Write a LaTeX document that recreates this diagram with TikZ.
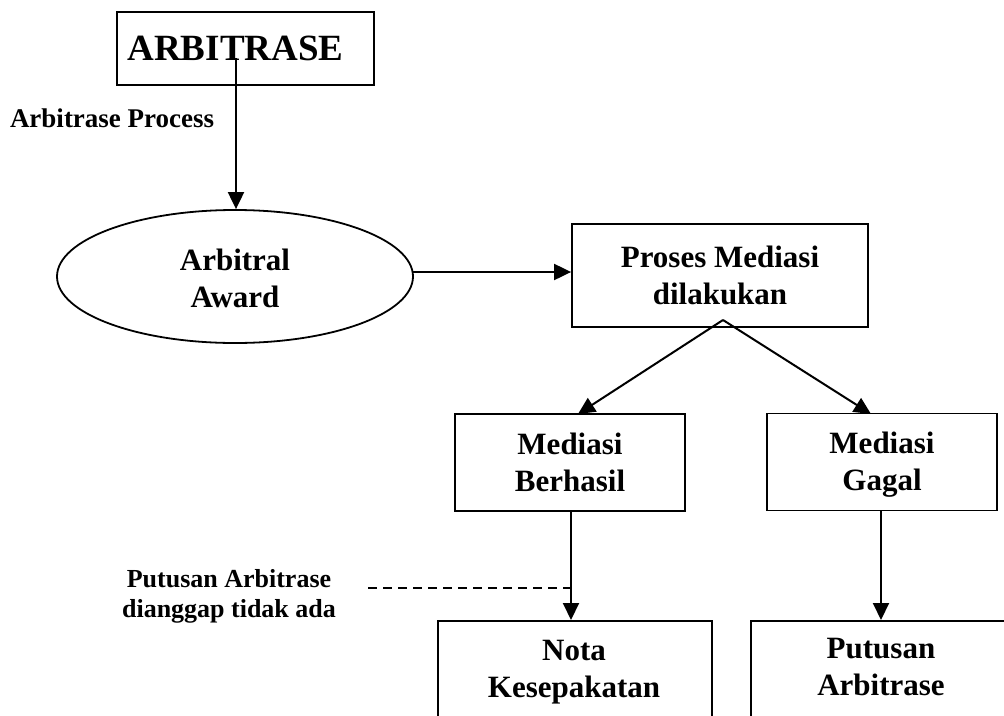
\documentclass[tikz,border=0pt]{standalone}
\usepackage{fontspec}
\setmainfont{Liberation Serif}
\usetikzlibrary{shapes.geometric,arrows.meta,calc}
\begin{document}
\begin{tikzpicture}[x=1pt,y=-1pt,
  line width=2pt,
  boxstyle/.style={draw,rectangle,line width=1.8pt,inner sep=0pt,align=center,
    text height=66pt,text depth=9pt,
    font=\fontsize{31}{37}\selectfont\bfseries},
  conn/.style={line width=2pt,-{Triangle[length=17pt,width=16pt]}},
  lbl/.style={inner sep=0pt,align=center}
]
\useasboundingbox (0,0) rectangle (1004,715);
\clip (0,0) rectangle (1004,715);

% nodes
\node[draw,rectangle,line width=1.8pt,inner sep=0pt,minimum width=257pt,minimum height=73pt,
  font=\fontsize{37}{40}\selectfont\bfseries] (arb) at (245.5,48.5) {\kern-20pt ARBITRASE};
\node[draw,ellipse,line width=1.8pt,inner sep=0pt,minimum width=356pt,minimum height=133pt,
  text height=68pt,text depth=7pt,
  align=center,font=\fontsize{31}{37}\selectfont\bfseries] (ell) at (235,276.5) {Arbitral\\Award};
\node[boxstyle,minimum width=296pt,minimum height=103pt] (proc) at (720,275.5) {Proses Mediasi\\dilakukan};
\node[boxstyle,minimum width=230pt,minimum height=97pt] (ber) at (570,462.5) {Mediasi\\Berhasil};
\node[boxstyle,minimum width=230pt,minimum height=97pt] (gag) at (882,462) {Mediasi\\Gagal};
\node[draw,rectangle,line width=1.8pt,minimum width=274pt,minimum height=180pt,anchor=north west] (nota) at (437,620) {};
\node[draw,rectangle,line width=1.8pt,minimum width=300pt,minimum height=180pt,anchor=north west] (put) at (750,620) {};
\node[lbl,anchor=base,font=\fontsize{31}{37}\selectfont\bfseries] (notat) at (574,697) {Nota\\Kesepakatan};
\node[lbl,anchor=base,font=\fontsize{31}{37}\selectfont\bfseries] (putt) at (881,695) {Putusan\\Arbitrase};
\node[lbl,anchor=base west,font=\fontsize{27}{30}\selectfont\bfseries] (proc_lbl) at (9,127) {Arbitrase Process};
\node[lbl,anchor=base,font=\fontsize{26}{30}\selectfont\bfseries] (side) at (229,617) {Putusan Arbitrase\\dianggap tidak ada};

% coordinates
\coordinate (a1) at (236,58);
\coordinate (apex) at (723,320);
\coordinate (bt) at (578,414);
\coordinate (gt) at (871,414);
\coordinate (dashL) at (368,588);

% connectors
\draw[conn] (a1) -- (a1 |- ell.north);
\draw[conn] (413,272) coordinate (e1) -- (e1 -| proc.west);
\draw[conn] (apex) -- (bt);
\draw[conn] (apex) -- (gt);
\draw[conn] (ber.south -| 571,0) coordinate (b1) -- (b1 |- nota.north);
\draw[conn] (gag.south -| 881,0) coordinate (g1) -- (g1 |- put.north);
\draw[line width=1.6pt,dashed,dash pattern=on 9pt off 6pt] (dashL) -- (dashL -| b1);
\end{tikzpicture}
\end{document}
